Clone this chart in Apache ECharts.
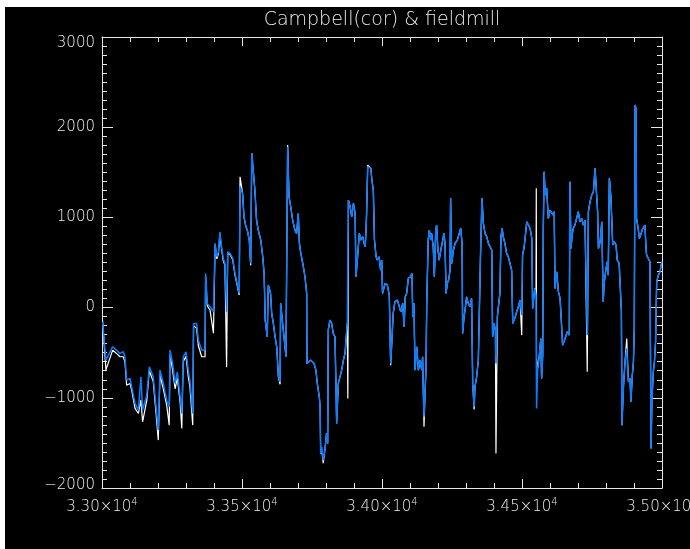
<!DOCTYPE html>
<html>
<head>
<meta charset="utf-8">
<script src="https://cdn.jsdelivr.net/npm/echarts@6/dist/echarts.min.js"></script>
<style>
html,body{margin:0;padding:0;background:#000;}
#c{width:690px;height:549px;}
</style>
</head>
<body>
<div id="c"></div>
<script>
// ---- data ----
const title = 'Campbell(cor) & fieldmill';
const xTicks = [33000, 33500, 34000, 34500, 35000];
const yTicks = [-2000, -1000, 0, 1000, 2000, 3000];

const fieldmillT = [
33002,33014,33038,33052,33064,33076,33082,33088,33100,33106,33118,33130,33139,33145,33160,33169,33183,33193,33201,33207,
33219,33231,33240,33243,33252,33261,33269,33279,33285,33290,33300,33308,33314,33324,33327,33338,33344,33356,33368,33370,
33376,33386,33392,33398,33404,33410,33416,33421,33427,33433,33439,33445,33449,33457,33467,33475,33481,33490,33493,
33502,33507,33514,33519,33526,33531,33535,33540,33546,33552,33558,33567,33574,33579,33583,33590,33594,33600,33602,33606,
33612,33618,33624,33630,33636,33638,33642,33645,33650,33657,33660,33663,33668,33674,33681,33689,33695,33701,33705,33710,
33717,33725,33731,33732,33745,33757,33764,33769,33776,33779,33781,33785,33790,33796,33802,33806,33808,33814,33820,33826,
33832,33836,33838,33844,33850,33856,33862,33868,33874,33876,33880,33886,33892,33898,33904,33907,33912,33919,33924,33931,
33936,33940,33943,33945,33949,33955,33960,33964,33969,33973,33979,33983,33990,33995,33999,34002,
34011,34019,34026,34031,34036,34040,34046,34055,34062,34067,34074,34079,34083,34088,34094,34102,34107,34110,34114,34118,
34124,34130,34136,34142,34145,34148,34150,34154,34157,34160,34165,34169,34174,34177,34183,34187,34192,34195,34199,34204,
34210,34217,34221,34225,34229,34233,34238,34243,34245,34249,34255,34261,34269,34276,34281,34286,34288,34293,34298,34302,
34308,34314,34320,34324,34329,34332,34338,34344,34348,34352,34357,34362,34368,34374,34380,34386,34392,34395,34400,34405,
34407,34412,34417,34421,34425,34429,34433,34439,34445,34451,34457,34463,34467,34471,34476,34481,34487,34493,
34499,34502,34507,34511,34517,34523,34529,34535,34538,34543,34546,34550,34552,34556,34562,34567,34570,34574,34576,34579,
34583,34588,34594,34600,34606,34612,34615,34618,34624,34630,34636,34638,34642,34645,34654,34662,34669,34671,34675,34679,
34683,34689,34695,34701,34707,34713,34719,34725,34731,34733,34737,34743,34749,34755,34761,34767,34770,34773,34779,34785,
34788,34790,34794,34800,34805,34808,34812,34817,34821,34824,34829,34836,34840,34847,34852,34855,34857,34862,34868,34874,
34880,34886,34889,34894,34898,34901,34904,34907,34909,34915,34919,34924,34929,34933,34939,34943,34945,34951,34957,34961,
34964,34969,34973,34977,34981,34987,34993,34999
];
const fieldmillV = [
-157,-582,-434,-471,-508,-490,-545,-804,-786,-878,-1063,-1137,-767,-1137,-970,-656,-767,-1100,-1358,-693,
-841,-1026,-1100,-471,-619,-841,-712,-989,-1174,-545,-490,-693,-804,-1174,-175,-175,-360,-471,-471,379,
47,9,28,-46,712,564,619,841,675,545,490,-46,619,601,545,379,397,157,1340,
1266,1007,896,859,749,490,1710,1525,1303,970,859,749,564,379,-139,-323,250,268,157,-64,
-175,-323,-434,-767,-823,47,64,-175,-323,-545,619,1784,1229,1118,970,859,823,1044,712,601,
490,342,157,-619,-582,-619,-693,-841,-989,-1100,-1617,-1544,-1691,-1580,-1395,-1506,-250,-139,-175,-286,
-323,-915,-1284,-841,-767,-693,-582,-508,-250,-175,1192,1118,1007,1155,1044,342,527,823,749,786,
712,675,859,1044,1562,1580,1544,1414,1303,749,564,527,564,416,527,157,
268,250,139,-619,-323,-64,64,83,9,-46,47,-213,120,157,324,342,379,-102,47,-693,
-434,-693,-582,-693,-545,-989,-1211,-915,-693,83,749,859,749,823,675,342,859,915,675,527,
638,749,823,712,157,268,305,416,1211,490,638,712,749,823,878,712,-286,-102,9,120,
47,9,101,-841,-1100,-878,-767,-582,9,601,1211,934,823,786,712,675,638,-323,-175,-250,
-619,-102,47,157,786,878,786,712,601,564,490,416,-175,-139,-102,-46,9,83,
-83,582,656,767,951,934,878,767,-9,139,213,139,-1118,-675,-527,-342,-785,-527,878,1506,
1248,1322,989,1081,1063,1026,1063,213,397,175,102,-9,-231,-416,-342,-268,-305,1395,656,804,
878,915,989,1063,951,989,915,970,951,-305,1063,1174,1248,1284,1544,1525,1063,656,730,951,
951,64,286,434,508,360,1433,1248,951,693,730,693,527,490,471,-46,-1303,-896,-601,-453,
-823,-786,-1045,-749,-601,-231,2246,2209,989,878,767,804,860,878,915,656,582,545,508,-1562,
-1026,-712,-601,-379,286,360,397,508
];

const campbellT = [
33002,33014,33038,33052,33064,33076,33082,33088,33100,33106,33118,33130,33139,33145,33160,33169,33183,33193,33201,33207,
33219,33231,33240,33243,33252,33261,33269,33279,33285,33290,33300,33308,33314,33324,33327,33338,33344,33356,33368,33370,
33376,33386,33392,33398,33404,33410,33416,33421,33427,33433,33439,33445,33449,33457,33467,33475,33481,33490,33493,
33502,33507,33514,33519,33526,33531,33535,33540,33546,33552,33558,33567,33574,33579,33583,33590,33594,33600,33602,33606,
33612,33618,33624,33630,33636,33638,33642,33645,33650,33657,33660,33663,33668,33674,33681,33689,33695,33701,33705,33710,
33717,33725,33731,33732,33745,33757,33764,33769,33776,33779,33781,33785,33790,33796,33802,33806,33808,33814,33820,33826,
33832,33836,33838,33844,33850,33856,33862,33868,33874,33876,33878,33880,33886,33892,33898,33904,33907,33912,33919,33924,33931,
33936,33940,33943,33945,33949,33955,33960,33964,33969,33973,33979,33983,33990,33995,33999,34002,
34011,34019,34026,34031,34036,34040,34046,34055,34062,34067,34074,34079,34083,34088,34094,34102,34107,34110,34114,34118,
34124,34130,34136,34142,34145,34148,34150,34154,34157,34160,34165,34169,34174,34177,34183,34187,34192,34195,34199,34204,
34210,34217,34221,34225,34229,34233,34238,34243,34245,34249,34255,34261,34269,34276,34281,34286,34288,34293,34298,34302,
34308,34314,34320,34324,34329,34332,34338,34344,34348,34352,34357,34362,34368,34374,34380,34386,34392,34395,34400,34405,
34407,34412,34417,34421,34425,34429,34433,34439,34445,34451,34457,34463,34467,34471,34476,34481,34487,34493,
34499,34502,34507,34511,34517,34523,34529,34535,34538,34543,34546,34550,34551,34552,34556,34562,34567,34570,34574,34576,34579,
34583,34588,34594,34600,34606,34612,34615,34618,34624,34630,34636,34638,34642,34645,34654,34662,34669,34671,34675,34679,
34683,34689,34695,34701,34707,34713,34719,34725,34731,34733,34737,34743,34749,34755,34761,34767,34770,34773,34779,34785,
34788,34790,34794,34800,34805,34808,34812,34817,34821,34824,34829,34836,34840,34847,34852,34855,34857,34862,34868,34874,
34880,34886,34889,34894,34898,34901,34904,34907,34909,34915,34919,34924,34929,34933,34939,34943,34945,34951,34957,34961,
34964,34969,34973,34977,34981,34987,34993,34999
];
const campbellV = [
-140,-690,-471,-508,-545,-545,-600,-860,-841,-915,-1118,-1174,-1026,-1266,-1026,-700,-820,-1170,-1469,-750,
-900,-1080,-1303,-520,-690,-900,-780,-1050,-1340,-600,-540,-760,-880,-1303,-200,-230,-420,-545,-545,350,
20,-30,-10,-283,700,540,600,820,650,520,470,-660,600,590,530,360,380,140,1451,
1266,1007,896,859,749,470,1710,1525,1303,970,859,749,564,379,-139,-323,250,268,157,-64,
-175,-323,-434,-767,-850,47,64,-175,-323,-545,619,1802,1229,1118,970,859,823,1044,712,601,
490,342,157,-619,-582,-619,-693,-841,-989,-1100,-1617,-1580,-1726,-1580,-1395,-1506,-250,-139,-175,-286,
-323,-915,-1284,-841,-767,-693,-582,-508,-250,-175,-1007,1192,1118,1007,1155,1044,342,527,823,749,786,
712,675,859,1044,1580,1600,1544,1414,1303,749,564,527,564,416,527,157,
268,250,139,-640,-323,-64,64,83,9,-46,47,-213,120,157,324,342,379,-102,47,-693,
-434,-693,-582,-693,-545,-989,-1322,-915,-693,83,749,859,749,823,675,342,859,915,675,527,
638,749,823,712,157,268,305,416,1211,490,638,712,749,823,878,712,-286,-102,9,120,
47,9,101,-841,-1130,-878,-767,-582,9,601,1211,934,823,786,712,675,638,-323,-175,-250,
-1617,-102,47,157,786,878,786,712,601,564,490,416,-175,-139,-102,-46,9,83,
-305,582,656,767,951,934,878,767,-9,139,213,139,1322,-560,-675,-527,-342,-785,-527,878,1506,
1248,1322,989,1081,1063,1026,1063,213,397,175,102,-9,-231,-416,-342,-268,-305,1395,656,804,
878,915,989,1063,951,989,915,970,951,-712,1063,1174,1248,1284,1544,1525,1063,656,730,951,
951,64,286,434,508,360,1433,1248,951,693,730,693,527,490,471,-46,-1303,-896,-601,-342,
-823,-786,-1045,-749,-601,-231,2246,2209,989,878,767,804,860,878,915,656,582,545,508,-1562,
-1026,-712,-601,-379,286,360,397,508
];

// ---- chart ----
const zip = (t, v) => t.map((x, i) => [x, v[i]]);
const FONT = "'DejaVu Sans', sans-serif";
const AX = '#e6e6e6';
const TXT = '#ececec';
const minus = v => (v < 0 ? '\u2212' + Math.abs(v) : String(v));

const chart = echarts.init(document.getElementById('c'), null, {renderer: 'canvas'});

function xAxisDef(pos, showLabel) {
  return {
    type: 'value', position: pos, gridIndex: 0,
    min: xTicks[0], max: xTicks[xTicks.length - 1], interval: 500,
    axisLine: {show: true, onZero: false, lineStyle: {color: AX, width: 1}},
    axisTick: {show: true, inside: true, length: 9, lineStyle: {color: AX}},
    minorTick: {show: true, splitNumber: 5, length: 5, lineStyle: {color: AX}},
    splitLine: {show: false},
    axisLabel: {
      show: showLabel, margin: 9, showMaxLabel: true, showMinLabel: true, hideOverlap: false,
      formatter: v => '{a|' + (v / 10000).toFixed(2) + '\u00d710}{s|4}',
      rich: {
        a: {fontFamily: FONT, fontSize: 15, fontWeight: 200, color: TXT, verticalAlign: 'bottom'},
        s: {fontFamily: FONT, fontSize: 10, fontWeight: 200, color: TXT, verticalAlign: 'bottom', padding: [0, 0, 8, 0]}
      }
    }
  };
}
function yAxisDef(pos, showLabel) {
  return {
    type: 'value', position: pos, gridIndex: 0,
    min: yTicks[0], max: yTicks[yTicks.length - 1], interval: 1000,
    axisLine: {show: true, onZero: false, lineStyle: {color: AX, width: 1}},
    axisTick: {show: true, inside: true, length: 11, lineStyle: {color: AX}},
    minorTick: {show: true, splitNumber: 10, length: 5, lineStyle: {color: AX}},
    splitLine: {show: false},
    axisLabel: {
      show: showLabel, margin: 7, showMaxLabel: true, showMinLabel: true,
      formatter: v => {
        if (v === yTicks[yTicks.length - 1]) return '{t|' + minus(v) + '}';
        if (v === yTicks[0]) return '{b|' + minus(v) + '}';
        return '{n|' + minus(v) + '}';
      },
      rich: {
        n: {fontFamily: FONT, fontSize: 15, fontWeight: 200, color: TXT},
        t: {fontFamily: FONT, fontSize: 15, fontWeight: 200, color: TXT, padding: [12, 0, 0, 0]},
        b: {fontFamily: FONT, fontSize: 15, fontWeight: 200, color: TXT, padding: [0, 0, 6, 0]}
      }
    }
  };
}

chart.setOption({
  backgroundColor: '#000',
  animation: false,
  grid: {left: 102, top: 37, width: 560, height: 451, containLabel: false, outerBoundsMode: 'none'},
  xAxis: [xAxisDef('bottom', true), xAxisDef('top', false)],
  yAxis: [yAxisDef('left', true), yAxisDef('right', false)],
  graphic: [
    {type: 'rect', shape: {x: 0, y: 0, width: 690, height: 7}, style: {fill: '#fff'}, z: 100, silent: true},
    {type: 'rect', shape: {x: 0, y: 0, width: 5, height: 549}, style: {fill: '#fff'}, z: 100, silent: true},
    {type: 'text', x: 382, y: 20, style: {text: title, fontFamily: FONT, fontSize: 19, fontWeight: 200, fill: TXT, align: 'center', verticalAlign: 'middle'}, z: 10}
  ],
  series: [
    {name: 'Campbell(cor)', type: 'line', xAxisIndex: 0, yAxisIndex: 0, data: zip(campbellT, campbellV),
     showSymbol: false, symbol: 'none', lineStyle: {color: '#ffffff', width: 1.2}, z: 2},
    {name: 'fieldmill', type: 'line', xAxisIndex: 0, yAxisIndex: 0, data: zip(fieldmillT, fieldmillV),
     showSymbol: false, symbol: 'none', lineStyle: {color: '#0a7cff', width: 1.5}, z: 3}
  ]
});
</script>
</body>
</html>
